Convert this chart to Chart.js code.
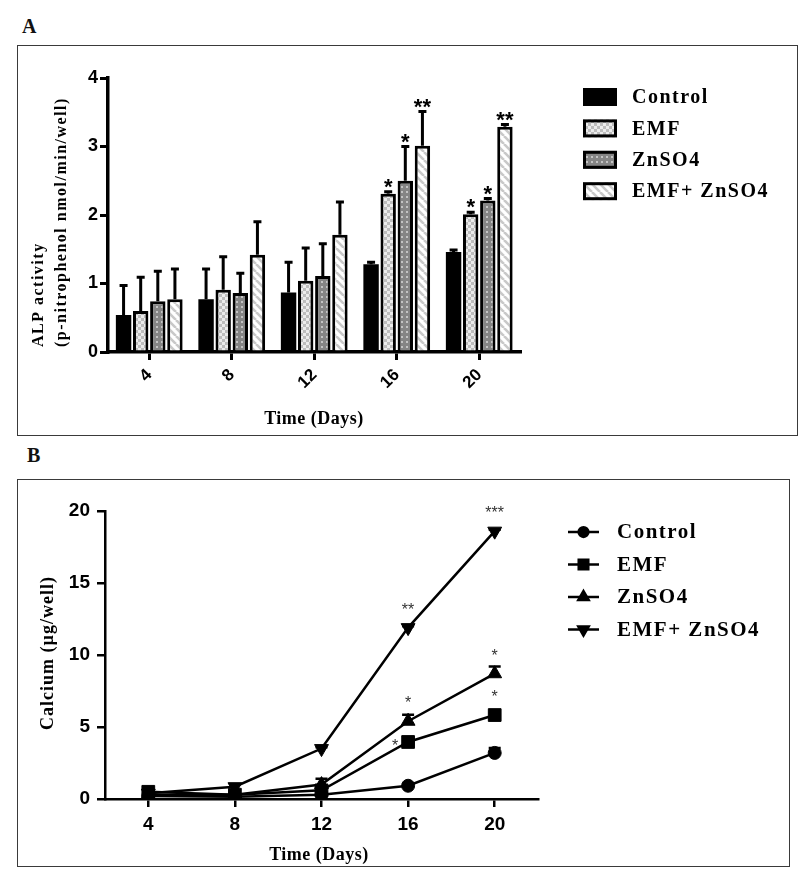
<!DOCTYPE html>
<html>
<head>
<meta charset="utf-8">
<script src="https://cdn.jsdelivr.net/npm/chart.js@4.4.1/dist/chart.umd.min.js"></script>
<style>
  html, body { margin: 0; padding: 0; background: #fff; }
  body { width: 800px; height: 877px; position: relative; overflow: hidden; }
  .panel-label { position: absolute; font: bold 20px "Liberation Serif", serif; color: #111; line-height: 1.15; }
  .frame { position: absolute; border: 1.5px solid #3a3a3a; box-sizing: border-box; }
  .holder { position: absolute; left: 0; width: 800px; }
</style>
</head>
<body>
<div class="panel-label" style="left:22px; top:15px;">A</div>
<div class="frame" style="left:17px; top:45px; width:781px; height:391px;"></div>
<div class="panel-label" style="left:27px; top:444px;">B</div>
<div class="frame" style="left:17px; top:479px; width:773px; height:388px;"></div>
<div class="holder" style="top:0; height:440px;"><canvas id="chartA"></canvas></div>
<div class="holder" style="top:440px; height:437px;"><canvas id="chartB"></canvas></div>

<script>
// ---- data ----
const categories = ["4", "8", "12", "16", "20"];
const seriesNames = ["Control", "EMF", "ZnSO4", "EMF+ ZnSO4"];

// panel A: ALP activity (mean, upper error)
const alpControl = [0.54, 0.77, 0.87, 1.28, 1.46];
const alpEMF = [0.60, 0.91, 1.04, 2.31, 2.01];
const alpZn = [0.74, 0.86, 1.11, 2.50, 2.21];
const alpEMFZn = [0.77, 1.42, 1.71, 3.01, 3.29];
const alpErrControl = [0.43, 0.44, 0.44, 0.03, 0.03];
const alpErrEMF = [0.49, 0.48, 0.48, 0.03, 0.03];
const alpErrZn = [0.44, 0.29, 0.47, 0.50, 0.03];
const alpErrEMFZn = [0.44, 0.48, 0.48, 0.50, 0.03];
const alpSigControl = ["", "", "", "", ""];
const alpSigEMF = ["", "", "", "*", "*"];
const alpSigZn = ["", "", "", "*", "*"];
const alpSigEMFZn = ["", "", "", "**", "**"];
const alpTicks = [0, 1, 2, 3, 4];

// panel B: calcium (µg/well)
const days = [4, 8, 12, 16, 20];
const caControl = [0.2, 0.15, 0.3, 0.92, 3.2];
const caEMF = [0.5, 0.3, 0.6, 3.96, 5.83];
const caZn = [0.3, 0.3, 1.0, 5.4, 8.7];
const caEMFZn = [0.4, 0.85, 3.5, 11.9, 18.6];
const caErrControl = [0.1, 0.05, 0.1, 0.1, 0.35];
const caErrEMF = [0.2, 0.1, 0.2, 0.1, 0.15];
const caErrZn = [0.1, 0.1, 0.4, 0.45, 0.5];
const caErrEMFZn = [0.1, 0.2, 0.1, 0.1, 0.1];
const caSigControl = ["", "", "", "", ""];
const caSigEMF = ["", "", "", "*", "*"];
const caSigZn = ["", "", "", "*", "*"];
const caSigEMFZn = ["", "", "", "**", "***"];
const caTicks = [0, 5, 10, 15, 20];

const SERIF = "'Liberation Serif', 'Times New Roman', serif";
const SANS = "'Liberation Sans', Arial, sans-serif";

// ---- fill patterns for the bars ----
function makePattern(ctx, kind) {
  const c = document.createElement("canvas");
  const g = c.getContext("2d");
  if (kind === "check") {
    c.width = c.height = 6;
    g.fillStyle = "#bdbdbd"; g.fillRect(0, 0, 6, 6);
    g.fillStyle = "#ececec"; g.fillRect(0, 0, 3, 3); g.fillRect(3, 3, 3, 3);
  } else if (kind === "dots") {
    c.width = c.height = 5;
    g.fillStyle = "#858585"; g.fillRect(0, 0, 5, 5);
    g.fillStyle = "#c4c4c4"; g.fillRect(1, 1, 2, 2);
  } else {
    c.width = c.height = 8;
    g.fillStyle = "#ffffff"; g.fillRect(0, 0, 8, 8);
    g.strokeStyle = "#c9c9c9"; g.lineWidth = 2.6;
    g.beginPath();
    [-8, 0, 8].forEach(o => { g.moveTo(o, 0); g.lineTo(o + 8, 8); });
    g.stroke();
  }
  return ctx.createPattern(c, "repeat");
}

// ---- panel A ----
const canvasA = document.getElementById("chartA");
const ctxA = canvasA.getContext("2d");
const barFills = ["#000000", makePattern(ctxA, "check"), makePattern(ctxA, "dots"), makePattern(ctxA, "stripe")];
const alpValues = [alpControl, alpEMF, alpZn, alpEMFZn];
const alpErrs = [alpErrControl, alpErrEMF, alpErrZn, alpErrEMFZn];
const alpSigs = [alpSigControl, alpSigEMF, alpSigZn, alpSigEMFZn];

const barExtras = {
  id: "barExtras",
  afterDatasetsDraw(chart) {
    const ctx = chart.ctx;
    const y = chart.scales.y;
    ctx.save();
    ctx.strokeStyle = "#000";
    ctx.fillStyle = "#000";
    ctx.lineWidth = 3;
    chart.data.datasets.forEach((ds, i) => {
      chart.getDatasetMeta(i).data.forEach((bar, j) => {
        const top = y.getPixelForValue(alpValues[i][j] + alpErrs[i][j]);
        ctx.beginPath();
        ctx.moveTo(bar.x, bar.y);
        ctx.lineTo(bar.x, top);
        ctx.moveTo(bar.x - 4, top);
        ctx.lineTo(bar.x + 4, top);
        ctx.stroke();
        if (alpSigs[i][j]) {
          ctx.font = "bold 22px " + SANS;
          ctx.textAlign = "center";
          ctx.textBaseline = "alphabetic";
          ctx.fillText(alpSigs[i][j], bar.x, top + 2);
        }
      });
    });
    ctx.restore();
  },
  afterDraw(chart) {
    const ctx = chart.ctx;
    ctx.save();
    // legend
    ctx.textAlign = "left";
    ctx.textBaseline = "middle";
    ctx.font = "bold 20px " + SERIF;
    ctx.letterSpacing = "1.5px";
    seriesNames.forEach((name, i) => {
      const cy = 97 + i * 31.4;
      ctx.fillStyle = barFills[i];
      ctx.fillRect(583, cy - 9, 34, 18);
      ctx.lineWidth = 3;
      ctx.strokeStyle = "#000";
      ctx.strokeRect(584.5, cy - 7.5, 31, 15);
      ctx.fillStyle = "#000";
      ctx.fillText(name, 632, cy + 1);
    });
    // axis titles
    ctx.font = "bold 18px " + SERIF;
    ctx.letterSpacing = "0.5px";
    ctx.textAlign = "center";
    ctx.fillText("Time (Days)", 314, 419);
    ctx.font = "bold 16px " + SERIF;
    ctx.letterSpacing = "1.5px";
    ctx.textAlign = "left";
    ctx.translate(0, 347);
    ctx.rotate(-Math.PI / 2);
    ctx.fillText("ALP activity", 0, 39);
    ctx.fillText("(p-nitrophenol nmol/min/well)", 0, 62);
    ctx.restore();
  }
};

new Chart(ctxA, {
  type: "bar",
  data: {
    labels: categories,
    datasets: seriesNames.map((name, i) => ({
      label: name,
      data: alpValues[i],
      backgroundColor: barFills[i],
      borderColor: "#000",
      borderWidth: i === 0 ? 0 : 3,
      categoryPercentage: 0.83,
      barPercentage: 0.9,
    })),
  },
  options: {
    responsive: true,
    maintainAspectRatio: false,
    animation: false,
    layout: { padding: { top: 78, right: 279.5, bottom: 0, left: 0 } },
    plugins: { legend: { display: false }, tooltip: { enabled: false } },
    scales: {
      x: {
        grid: { drawOnChartArea: false, offset: false, tickLength: 8, lineWidth: 3, color: "#000" },
        border: { color: "#000", width: 3.5 },
        ticks: { color: "#000", font: { family: SANS, weight: "bold", size: 17 }, minRotation: 45, maxRotation: 45, padding: 5 },
        afterFit: (s) => { s.height = 88; },
      },
      y: {
        min: 0,
        max: 4,
        afterBuildTicks: (s) => { s.ticks = alpTicks.map(v => ({ value: v })); },
        grid: { drawOnChartArea: false, tickLength: 8, lineWidth: 3, color: "#000" },
        border: { color: "#000", width: 3.5 },
        ticks: { color: "#000", font: { family: SANS, weight: "bold", size: 18 }, padding: 2 },
        afterFit: (s) => { s.width = 108; },
      },
    },
  },
  plugins: [barExtras],
});

// ---- panel B ----
const canvasB = document.getElementById("chartB");
const ctxB = canvasB.getContext("2d");
const caValues = [caControl, caEMF, caZn, caEMFZn];
const caErrs = [caErrControl, caErrEMF, caErrZn, caErrEMFZn];
const caSigs = [caSigControl, caSigEMF, caSigZn, caSigEMFZn];
const markerStyles = [
  { pointStyle: "circle", radius: 6.5, rotation: 0 },
  { pointStyle: "rect", radius: 9, rotation: 0 },
  { pointStyle: "triangle", radius: 8, rotation: 0 },
  { pointStyle: "triangle", radius: 8, rotation: 180 },
];

const lineExtras = {
  id: "lineExtras",
  beforeDatasetsDraw(chart) {
    const ctx = chart.ctx;
    const y = chart.scales.y;
    ctx.save();
    ctx.strokeStyle = "#000";
    ctx.lineWidth = 2.5;
    chart.data.datasets.forEach((ds, i) => {
      chart.getDatasetMeta(i).data.forEach((pt, j) => {
        const top = y.getPixelForValue(caValues[i][j] + caErrs[i][j]);
        ctx.beginPath();
        ctx.moveTo(pt.x, pt.y);
        ctx.lineTo(pt.x, top);
        ctx.moveTo(pt.x - 6, top);
        ctx.lineTo(pt.x + 6, top);
        ctx.stroke();
      });
    });
    ctx.restore();
  },
  afterDatasetsDraw(chart) {
    const ctx = chart.ctx;
    const y = chart.scales.y;
    ctx.save();
    ctx.fillStyle = "#333";
    ctx.font = "16px " + SANS;
    ctx.textAlign = "center";
    ctx.textBaseline = "alphabetic";
    chart.data.datasets.forEach((ds, i) => {
      chart.getDatasetMeta(i).data.forEach((pt, j) => {
        const s = caSigs[i][j];
        if (!s) return;
        if (i === 1 && j === 3) {
          // squeezed in left of the marker, as in the original
          ctx.fillText(s, pt.x - 13, pt.y + 9);
          return;
        }
        const top = Math.min(pt.y - 10, y.getPixelForValue(caValues[i][j] + caErrs[i][j]));
        ctx.fillText(s, pt.x, top - 3);
      });
    });
    ctx.restore();
  },
  afterDraw(chart) {
    const ctx = chart.ctx;
    ctx.save();
    ctx.textAlign = "left";
    ctx.textBaseline = "middle";
    seriesNames.forEach((name, i) => {
      const cy = 92 + i * 32.5;
      ctx.strokeStyle = "#000";
      ctx.fillStyle = "#000";
      ctx.lineWidth = 2.5;
      ctx.beginPath();
      ctx.moveTo(568, cy);
      ctx.lineTo(599, cy);
      ctx.stroke();
      const m = markerStyles[i];
      Chart.helpers.drawPoint(ctx, { pointStyle: m.pointStyle, radius: m.radius * 0.75, rotation: m.rotation, borderWidth: 1 }, 583.5, cy);
      ctx.font = "bold 21px " + SERIF;
      ctx.letterSpacing = "1.5px";
      ctx.fillText(name, 617, cy + 1);
    });
    ctx.font = "bold 18px " + SERIF;
    ctx.letterSpacing = "0.5px";
    ctx.textAlign = "center";
    ctx.fillText("Time (Days)", 319, 415);
    ctx.letterSpacing = "1px";
    ctx.translate(48, 213);
    ctx.rotate(-Math.PI / 2);
    ctx.fillText("Calcium (\u00b5g/well)", 0, 0);
    ctx.restore();
  }
};

new Chart(ctxB, {
  type: "line",
  data: {
    datasets: seriesNames.map((name, i) => ({
      label: name,
      data: days.map((d, j) => ({ x: d, y: caValues[i][j] })),
      borderColor: "#000",
      borderWidth: 2.5,
      backgroundColor: "#000",
      pointBackgroundColor: "#000",
      pointBorderColor: "#000",
      pointBorderWidth: 1,
      pointStyle: markerStyles[i].pointStyle,
      pointRadius: markerStyles[i].radius,
      pointRotation: markerStyles[i].rotation,
      tension: 0,
      fill: false,
    })),
  },
  options: {
    responsive: true,
    maintainAspectRatio: false,
    animation: false,
    layout: { padding: { top: 71, right: 262, bottom: 0, left: 0 } },
    plugins: { legend: { display: false }, tooltip: { enabled: false } },
    scales: {
      x: {
        type: "linear",
        min: 2,
        max: 22,
        afterBuildTicks: (s) => { s.ticks = days.map(v => ({ value: v })); },
        grid: { drawOnChartArea: false, tickLength: 8, lineWidth: 2.5, color: "#000" },
        border: { color: "#000", width: 2.5 },
        ticks: { color: "#000", font: { family: SANS, weight: "bold", size: 19 }, padding: 6, maxRotation: 0 },
        afterFit: (s) => { s.height = 78; },
      },
      y: {
        min: 0,
        max: 20,
        afterBuildTicks: (s) => { s.ticks = caTicks.map(v => ({ value: v })); },
        grid: { drawOnChartArea: false, tickLength: 8, lineWidth: 2.5, color: "#000" },
        border: { color: "#000", width: 2.5 },
        ticks: { color: "#000", font: { family: SANS, weight: "bold", size: 19 }, padding: 7 },
        afterFit: (s) => { s.width = 105; },
      },
    },
  },
  plugins: [lineExtras],
});
</script>
</body>
</html>
